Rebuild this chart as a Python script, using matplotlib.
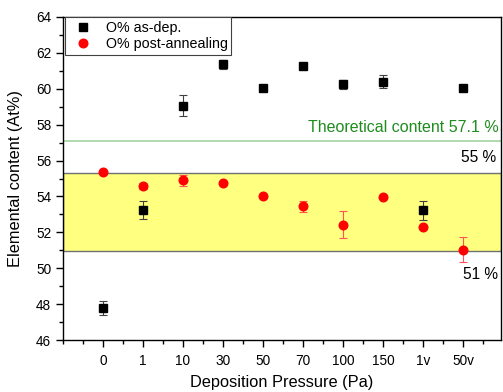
import matplotlib
matplotlib.use("Agg")
import matplotlib.pyplot as plt
import numpy as np
from matplotlib.ticker import MultipleLocator
from matplotlib.lines import Line2D

plt.rcParams['font.family'] = ['Liberation Sans', 'DejaVu Sans']

categories = ["0", "1", "10", "30", "50", "70", "100", "150", "1v", "50v"]
asdep = [47.8, 53.22, 59.06, 61.36, 60.06, 61.25, 60.25, 60.39, 53.22, 60.06]
asdep_err = [0.4, 0.5, 0.6, 0.25, 0.05, 0.05, 0.25, 0.35, 0.54, 0.05]
post = [55.34, 54.58, 54.9, 54.77, 54.0, 53.45, 52.42, 53.95, 52.28, 51.03]
post_err = [0.05, 0.15, 0.3, 0.05, 0.1, 0.3, 0.76, 0.05, 0.05, 0.69]
band_low, band_high = 50.97, 55.32
theoretical = 57.1

fig = plt.figure(figsize=(5.03, 3.92), dpi=100)
ax = fig.add_axes([63/503, 1-340/392, (501-63)/503, (340-17)/392])

x = np.arange(len(categories))
ax.axhspan(band_low, band_high, facecolor='#FFFF80', edgecolor='#707070', linewidth=1.0, zorder=0)
ax.axhline(theoretical, color='#A8D8A8', linewidth=1.3, zorder=1)

ax.errorbar(x, asdep, yerr=asdep_err, fmt='s', color='black', ms=5.5,
            ecolor='#404040', elinewidth=0.8, capsize=3, capthick=0.8, zorder=3)
ax.errorbar(x, post, yerr=post_err, fmt='o', color='#FF0000', ms=6.2,
            ecolor='#FF5555', elinewidth=0.8, capsize=3, capthick=0.8, zorder=3)

ax.set_xlim(-1, 9.95)
ax.set_ylim(46, 64)
ax.set_xticks(x)
ax.set_xticklabels(categories)
ax.xaxis.set_minor_locator(MultipleLocator(0.5))
ax.yaxis.set_major_locator(MultipleLocator(2))
ax.yaxis.set_minor_locator(MultipleLocator(1))
ax.tick_params(axis='both', which='major', direction='out', length=5, width=1, labelsize=9.8)
ax.tick_params(axis='both', which='minor', direction='out', length=3, width=1)
ax.tick_params(axis='x', which='major', pad=5)
for s in ax.spines.values():
    s.set_linewidth(1.0)

ax.set_xlabel('Deposition Pressure (Pa)', fontsize=11.8)
ax.xaxis.set_label_coords(0.5, -(382 - 340) / 323, transform=ax.transAxes)
ax.xaxis.label.set_va('center')
ax.set_ylabel('Elemental content (At%)', fontsize=11.8)
ax.yaxis.set_label_coords(-(63 - 16) / 438, 0.5, transform=ax.transAxes)
ax.yaxis.label.set_va('center')

ax.text(9.9, 57.84, 'Theoretical content 57.1 %', color='#1E8C1E', fontsize=11.5,
        ha='right', va='center')
ax.text(9.83, 56.15, '55 %', color='black', fontsize=11.2, ha='right', va='center')
ax.text(9.87, 49.67, '51 %', color='black', fontsize=11.2, ha='right', va='center')

handles = [Line2D([], [], ls='none', marker='s', color='black', ms=5.5),
           Line2D([], [], ls='none', marker='o', color='#FF0000', ms=6.2)]
leg = ax.legend(handles, ['O% as-dep.', 'O% post-annealing'], loc='upper left',
                bbox_to_anchor=(0.004, 1.0), fontsize=10.3,
                frameon=True, fancybox=False, edgecolor='#404040', framealpha=1,
                borderpad=0.25, handletextpad=0.6, labelspacing=0.2, borderaxespad=0.0,
                handlelength=2.0)
leg.get_frame().set_linewidth(0.8)

fig.savefig('out.png', dpi=100)
